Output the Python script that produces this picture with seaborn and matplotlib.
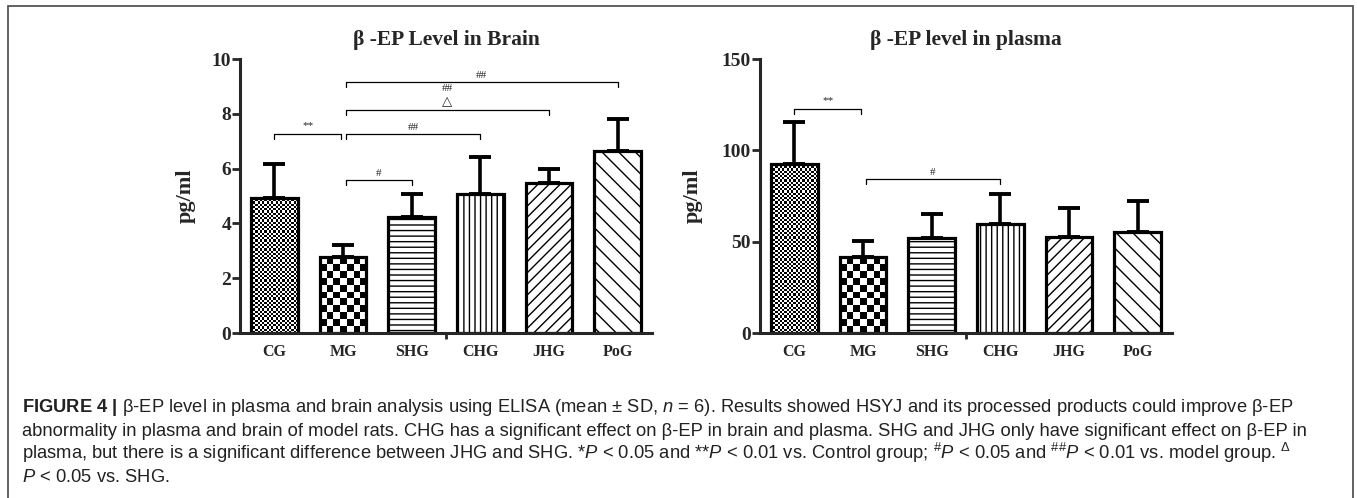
import numpy as np
import pandas as pd
import matplotlib
matplotlib.use("Agg")
import matplotlib.pyplot as plt
import seaborn as sns
from matplotlib import font_manager
from matplotlib.patches import Rectangle

# data (mean and SD, pg/ml)
groups = ['CG', 'MG', 'SHG', 'CHG', 'JHG', 'PoG']
brain_mean = [4.93, 2.77, 4.23, 5.07, 5.47, 6.64]
brain_sd = [1.24, 0.43, 0.84, 1.35, 0.51, 1.17]
plasma_mean = [92.5, 41.6, 52.0, 59.7, 52.5, 55.3]
plasma_sd = [23.0, 8.8, 13.0, 16.3, 15.9, 16.9]

# significance brackets: (from, to, mark, level)
brain_brackets = [(0, 1, '**', 7.26), (1, 2, '#', 5.58), (1, 3, '##', 7.26),
                  (1, 4, '##\n△', 8.14), (1, 5, '##', 9.16)]
plasma_brackets = [(0, 1, '**', 122.6), (1, 3, '#', 84.3)]

sns.set_style('ticks')
plt.rcParams['font.family'] = ['Liberation Serif', 'DejaVu Sans']
plt.rcParams['hatch.linewidth'] = 1.0

names = {f.name for f in font_manager.fontManager.ttflist}
cap_font = 'Liberation Sans Narrow' if 'Liberation Sans Narrow' in names else 'Liberation Sans'
plt.rcParams['mathtext.fontset'] = 'custom'
plt.rcParams['mathtext.rm'] = cap_font
plt.rcParams['mathtext.it'] = cap_font + ':italic'
plt.rcParams['mathtext.bf'] = cap_font + ':bold'

fig = plt.figure(figsize=(13.57, 4.98), dpi=100)
axL = fig.add_axes([0.1769, 0.3313, 0.3036, 0.5502])
axR = fig.add_axes([0.5601, 0.3313, 0.3036, 0.5502])

hatches = [None, None, '---', '|||', '///', '\\\\']
AX_H_PX = 0.5502 * 498
SLOT_PX = 0.3036 * 1357 / 6


def checker(ax, patch, cell, ppu):
    x0, w, h = patch.get_x(), patch.get_width(), patch.get_height()
    ncol = max(1, round(w * SLOT_PX / cell))
    nrow = max(1, round(h * ppu / cell))
    ii, jj = np.indices((nrow, ncol))
    im = ax.imshow((ii + jj) % 2, extent=(x0, x0 + w, 0, h), origin='lower',
                   cmap='gray_r', vmin=0, vmax=1, interpolation='nearest',
                   aspect='auto', zorder=0.5)
    im.set_clip_path(patch)
    patch.set_facecolor('none')


def panel(ax, means, sds, ymax, step, title, brackets):
    ppu = AX_H_PX / ymax
    df = pd.DataFrame({'group': groups, 'value': means})
    sns.barplot(data=df, x='group', y='value', hue='group', palette=['white'] * 6,
                edgecolor='black', linewidth=2.3, width=0.68, legend=False,
                errorbar=None, ax=ax)
    bars = ax.patches[:6]
    for p, h in zip(bars, hatches):
        p.set_zorder(1)
        if h:
            p.set_hatch(h)
    checker(ax, bars[0], 2.2, ppu)
    checker(ax, bars[1], 6.7, ppu)
    ax.errorbar(range(6), means, yerr=[np.zeros(6), sds], fmt='none',
                ecolor='black', elinewidth=2.6, capsize=8, capthick=2.8, zorder=3)

    drop = 5 / ppu
    for a, b, mark, lev in brackets:
        x0 = a + (0.04 if a == 1 else 0.0)
        x1 = b - (0.03 if b == 1 else 0.0)
        ax.plot([x0, x0, x1, x1], [lev - drop, lev, lev, lev - drop],
                color='black', lw=0.9, zorder=4)
        parts = mark.split('\n')
        ax.annotate(parts[-1], ((x0 + x1) / 2, lev), xytext=(0, 1.5 if parts[-1] != '**' else 3),
                    textcoords='offset points', ha='center', va='bottom',
                    fontsize=8 if parts[-1] != '△' else 9.5)
        if len(parts) > 1:
            ax.annotate(parts[0], ((x0 + x1) / 2, lev), xytext=(0, 12),
                        textcoords='offset points', ha='center', va='bottom',
                        fontsize=8)

    ax.set_xlim(-0.5, 5.5)
    ax.set_ylim(0, ymax)
    ax.set_yticks(np.arange(0, ymax + step / 2, step))
    sns.despine(ax=ax)
    for s in ['left', 'bottom']:
        ax.spines[s].set_linewidth(2.2)
    ax.tick_params(axis='y', length=5.5, width=2.0, pad=1, labelsize=14)
    ax.tick_params(axis='x', which='major', length=0, pad=8, labelsize=11.5)
    ax.set_xticks([2.5], minor=True)
    ax.tick_params(axis='x', which='minor', length=4.5, width=2.0)
    for lab in ax.get_xticklabels() + ax.get_yticklabels():
        lab.set_fontweight('bold')
    ax.set_xlabel('')
    ax.set_ylabel('pg/ml', fontsize=16, fontweight='bold')
    ax.set_title(title, fontsize=15.5, fontweight='bold', pad=10)


panel(axL, brain_mean, brain_sd, 10, 2, 'β -EP Level in Brain', brain_brackets)
panel(axR, plasma_mean, plasma_sd, 150, 50, 'β -EP level in plasma', plasma_brackets)
axL.yaxis.set_label_coords(-0.108, 0.5)
axR.yaxis.set_label_coords(-0.138, 0.5)

# outer frame of the figure panel
fig.add_artist(Rectangle((8 / 1357, -0.1), 1345 / 1357, 1 - 6 / 498 + 0.1,
                         transform=fig.transFigure, fill=False,
                         edgecolor='#555555', lw=1.3))

caption = [
    r'$\mathbf{FIGURE\ 4\ |}$ β-EP level in plasma and brain analysis using ELISA (mean ± SD, $n$ = 6). '
    r'Results showed HSYJ and its processed products could improve β-EP',
    'abnormality in plasma and brain of model rats. CHG has a significant effect on β-EP in brain and '
    'plasma. SHG and JHG only have significant effect on β-EP in',
    r'plasma, but there is a significant difference between JHG and SHG. *$P$ < 0.05 and **$P$ < 0.01 vs. '
    r'Control group; $^{\#}P$ < 0.05 and $^{\#\#}P$ < 0.01 vs. model group. $^{\Delta}$',
    r'$P$ < 0.05 vs. SHG.',
]
for i, line in enumerate(caption):
    fig.text(22 / 1357, 1 - (412.5 + 23.3 * i) / 498, line, ha='left', va='baseline',
             fontsize=13.2, family=cap_font, color='#222222')

fig.savefig('out.png', dpi=100)
